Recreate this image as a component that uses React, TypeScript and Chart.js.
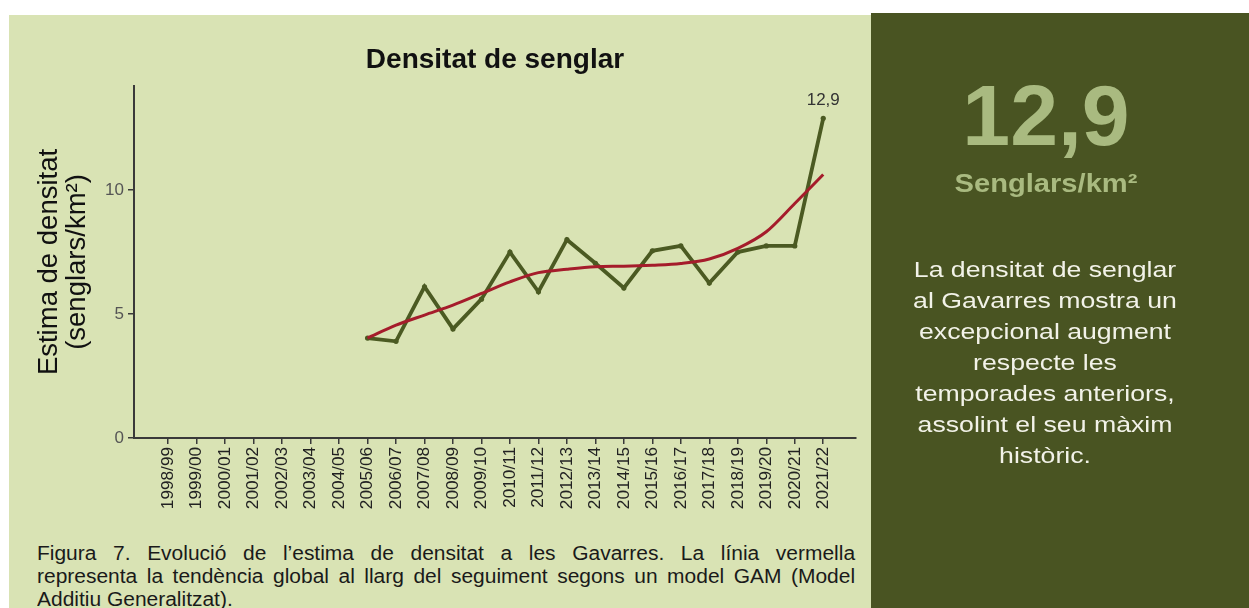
import React, { useEffect, useRef } from "react";
import { Chart, registerables } from "chart.js";

Chart.register(...registerables);

const seasons = [
  "1998/99", "1999/00", "2000/01", "2001/02", "2002/03", "2003/04", "2004/05",
  "2005/06", "2006/07", "2007/08", "2008/09", "2009/10", "2010/11", "2011/12",
  "2012/13", "2013/14", "2014/15", "2015/16", "2016/17", "2017/18", "2018/19",
  "2019/20", "2020/21", "2021/22",
];

const density: (number | null)[] = [
  null, null, null, null, null, null, null,
  4.03, 3.9, 6.1, 4.4, 5.6, 7.5, 5.9, 8.0, 7.05, 6.05, 7.55, 7.75, 6.25, 7.5, 7.75, 7.75, 12.9,
];

const gamTrend: (number | null)[] = [
  null, null, null, null, null, null, null,
  4.03, 4.55, 4.96, 5.36, 5.83, 6.3, 6.67, 6.81, 6.91, 6.93, 6.97, 7.04, 7.22, 7.65, 8.32, 9.46, 10.63,
];

const yTickValues = [0, 5, 10];

const FONT = "'Liberation Sans', Arial, Helvetica, sans-serif";
const GREEN = "#4b5a22";
const RED = "#a51c2b";

const toPoints = (arr: (number | null)[]) =>
  arr
    .map((v, i) => ({ x: i, y: v }))
    .filter((p) => p.y !== null) as { x: number; y: number }[];

const lastLabelPlugin = {
  id: "lastLabel",
  afterDatasetsDraw(chart: any) {
    const meta = chart.getDatasetMeta(0);
    const pts = meta.data;
    if (!pts || !pts.length) return;
    const el = pts[pts.length - 1];
    const ds = chart.data.datasets[0].data;
    const v = ds[ds.length - 1].y;
    const ctx = chart.ctx;
    ctx.save();
    ctx.font = `17px ${FONT}`;
    ctx.fillStyle = "#333333";
    ctx.textAlign = "center";
    ctx.textBaseline = "alphabetic";
    ctx.fillText(String(v).replace(".", ","), el.x, el.y - 13);
    ctx.restore();
  },
};

function DensityChart() {
  const ref = useRef<HTMLCanvasElement | null>(null);
  useEffect(() => {
    if (!ref.current) return;
    const chart = new Chart(ref.current, {
      type: "line",
      data: {
        datasets: [
          {
            label: "Densitat",
            data: toPoints(density),
            borderColor: GREEN,
            backgroundColor: GREEN,
            borderWidth: 3.8,
            pointRadius: 2.6,
            pointBackgroundColor: GREEN,
            pointBorderColor: GREEN,
            pointBorderWidth: 0,
            tension: 0,
            order: 2,
          },
          {
            label: "GAM",
            data: toPoints(gamTrend),
            borderColor: RED,
            borderWidth: 3,
            pointRadius: 0,
            cubicInterpolationMode: "monotone",
            order: 1,
          },
        ],
      } as any,
      options: {
        animation: false,
        responsive: true,
        maintainAspectRatio: false,
        layout: { padding: { left: 0, right: 15, top: 0, bottom: 0 } },
        plugins: {
          legend: { display: false },
          tooltip: { enabled: false },
          title: {
            display: true,
            text: "Densitat de senglar",
            fullSize: false,
            color: "#111111",
            font: { family: FONT, size: 28, weight: "bold", lineHeight: 1.2 },
            padding: { top: 28.2, bottom: 9.2 },
          },
        },
        scales: {
          x: {
            type: "linear",
            min: -1.2,
            max: 24.15,
            afterFit: (s: any) => {
              s.height = 92;
            },
            border: { display: true, color: "#3a3a3a", width: 2 },
            grid: {
              display: true,
              drawOnChartArea: false,
              drawTicks: true,
              tickLength: 6,
              color: "#3a3a3a",
              lineWidth: 1.5,
            },
            ticks: {
              stepSize: 1,
              autoSkip: false,
              includeBounds: false,
              maxRotation: 90,
              minRotation: 90,
              padding: 3,
              color: "#222222",
              font: { family: FONT, size: 17.2 },
              callback: (value: any) => {
                const i = Number(value);
                return Number.isInteger(i) && seasons[i] !== undefined ? seasons[i] : null;
              },
            },
          },
          y: {
            type: "linear",
            min: 0,
            max: 14.2,
            afterFit: (s: any) => {
              s.width = 125;
            },
            border: { display: true, color: "#3a3a3a", width: 2 },
            grid: {
              display: true,
              drawOnChartArea: false,
              drawTicks: true,
              tickLength: 6,
              color: "#3a3a3a",
              lineWidth: 1.5,
            },
            ticks: {
              stepSize: 5,
              includeBounds: false,
              padding: 4,
              color: "#555555",
              font: { family: FONT, size: 17 },
              callback: (value: any) =>
                yTickValues.includes(Number(value)) ? String(value) : null,
            },
            title: {
              display: true,
              text: ["Estima de densitat", "(senglars/km²)"],
              color: "#111111",
              font: { family: FONT, size: 27.5, lineHeight: 1.0 },
              padding: { top: 27, bottom: 0 },
            },
          },
        },
      } as any,
      plugins: [lastLabelPlugin],
    });
    return () => chart.destroy();
  }, []);
  return <canvas ref={ref} />;
}

const panelLines = [
  "La densitat de senglar",
  "al Gavarres mostra un",
  "excepcional augment",
  "respecte les",
  "temporades anteriors,",
  "assolint el seu màxim",
  "històric.",
];

const captionLines = [
  "Figura 7. Evolució de l’estima de densitat a les Gavarres. La línia vermella",
  "representa la tendència global al llarg del seguiment segons un model GAM (Model",
  "Additiu Generalitzat).",
];

export default function App() {
  return (
    <div
      style={{
        position: "absolute",
        left: 0,
        top: 0,
        width: 1249,
        height: 608,
        overflow: "hidden",
        background: "#ffffff",
        fontFamily: FONT,
      }}
    >
      <div
        style={{
          position: "absolute",
          left: 9,
          top: 15,
          width: 862,
          height: 593,
          background: "#d9e3b4",
        }}
      />
      <div style={{ position: "absolute", left: 9, top: 15, width: 862, height: 515 }}>
        <DensityChart />
      </div>
      <div
        style={{
          position: "absolute",
          left: 37,
          top: 541.5,
          width: 761,
          transform: "scaleX(1.075)",
          transformOrigin: "left top",
          fontSize: 19.5,
          lineHeight: "23px",
          color: "#1a1a1a",
        }}
      >
        {captionLines.map((l, i) => (
          <div
            key={i}
            style={{
              whiteSpace: "nowrap",
              textAlign: i < captionLines.length - 1 ? "justify" : "left",
              textAlignLast: i < captionLines.length - 1 ? "justify" : "left",
            }}
          >
            {l}
          </div>
        ))}
      </div>
      <div
        style={{
          position: "absolute",
          left: 871,
          top: 13,
          width: 378,
          height: 595,
          background: "#495422",
        }}
      >
        <div
          style={{
            position: "absolute",
            left: 0,
            top: 59,
            width: 350,
            textAlign: "center",
            fontSize: 86,
            lineHeight: "86px",
            fontWeight: "bold",
            color: "#a9ba80",
          }}
        >
          12,9
        </div>
        <div
          style={{
            position: "absolute",
            left: 0,
            top: 157,
            width: 350,
            textAlign: "center",
            fontSize: 26,
            lineHeight: "26px",
            fontWeight: "bold",
            color: "#a9ba80",
            transform: "scaleX(1.12)",
            transformOrigin: "center top",
          }}
        >
          Senglars/km²
        </div>
        <div
          style={{
            position: "absolute",
            left: 0,
            top: 242,
            width: 348,
            textAlign: "center",
            fontSize: 21.5,
            lineHeight: "31px",
            color: "#f2f2e8",
            transform: "scaleX(1.24)",
            transformOrigin: "center top",
          }}
        >
          {panelLines.map((l, i) => (
            <div key={i} style={{ whiteSpace: "nowrap" }}>
              {l}
            </div>
          ))}
        </div>
      </div>
    </div>
  );
}
